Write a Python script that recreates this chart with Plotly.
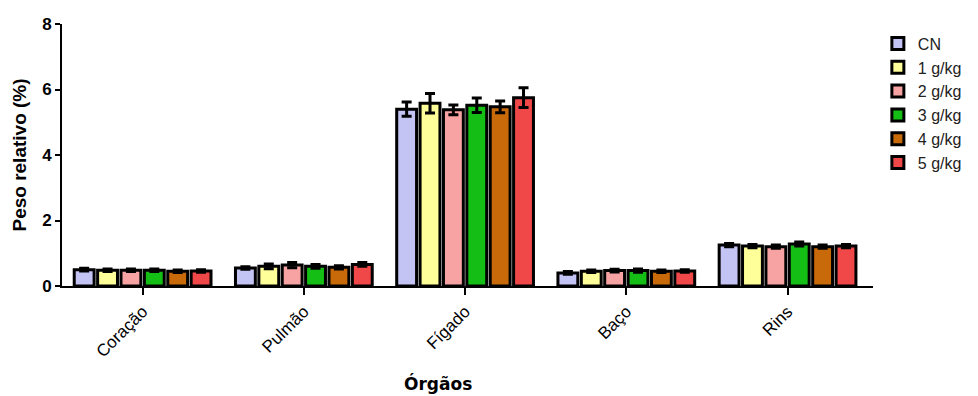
import plotly.graph_objects as go

orgaos = ["Coração", "Pulmão", "Fígado", "Baço", "Rins"]
grupos = ["CN", "1 g/kg", "2 g/kg", "3 g/kg", "4 g/kg", "5 g/kg"]
cores = ["#C4C4F4", "#FFFF99", "#F7A3A3", "#14BE14", "#C86A0A", "#F04848"]

# mean relative organ weight (%) per group, ordered as `orgaos`
media = {
    "CN":     [0.50, 0.55, 5.40, 0.40, 1.25],
    "1 g/kg": [0.48, 0.60, 5.58, 0.45, 1.22],
    "2 g/kg": [0.48, 0.64, 5.38, 0.47, 1.20],
    "3 g/kg": [0.48, 0.60, 5.52, 0.47, 1.28],
    "4 g/kg": [0.45, 0.57, 5.47, 0.45, 1.20],
    "5 g/kg": [0.46, 0.66, 5.75, 0.46, 1.22],
}
# standard error per group
erro = {
    "CN":     [0.04, 0.04, 0.22, 0.04, 0.05],
    "1 g/kg": [0.04, 0.07, 0.30, 0.04, 0.05],
    "2 g/kg": [0.04, 0.08, 0.15, 0.04, 0.05],
    "3 g/kg": [0.04, 0.06, 0.22, 0.05, 0.06],
    "4 g/kg": [0.04, 0.05, 0.18, 0.04, 0.05],
    "5 g/kg": [0.04, 0.06, 0.30, 0.04, 0.05],
}

ARIAL = "Liberation Sans, Arial, sans-serif"

fig = go.Figure()
for g, c in zip(grupos, cores):
    fig.add_trace(go.Bar(
        name=g, x=orgaos, y=media[g],
        marker=dict(color=c, line=dict(color="black", width=3)),
        error_y=dict(type="data", array=erro[g], visible=True,
                     color="black", thickness=3, width=5),
    ))

fig.update_layout(
    width=978, height=396,
    margin=dict(l=62, r=105, t=24, b=110, autoexpand=False),
    paper_bgcolor="white", plot_bgcolor="white",
    barmode="group", bargap=0.13, bargroupgap=0.15,
    font=dict(family=ARIAL, color="black"),
    showlegend=True,
    legend=dict(x=1.006, xanchor="left", y=0.99, yanchor="top",
                font=dict(size=16, color="#222", family=ARIAL), itemwidth=30,
                tracegroupgap=0, bgcolor="rgba(0,0,0,0)"),
    xaxis=dict(
        range=[-0.5, 4.53], showline=True, linecolor="black", linewidth=2,
        ticks="outside", ticklen=7, tickwidth=2, tickcolor="black",
        tickangle=-45, tickfont=dict(size=17, family=ARIAL),
        showgrid=False, zeroline=False, automargin=False,
    ),
    yaxis=dict(
        range=[0, 8], tickvals=[0, 2, 4, 6, 8], showline=True,
        linecolor="black", linewidth=2, ticks="outside", ticklen=5,
        tickwidth=2, tickcolor="black",
        tickfont=dict(size=17, family=ARIAL, weight="bold"),
        title=dict(text="<b>Peso relativo (%)</b>",
                   font=dict(size=19, family=ARIAL), standoff=10),
        showgrid=False, zeroline=False, automargin=False,
    ),
    annotations=[dict(
        text="<b>Órgãos</b>", xref="paper", yref="paper",
        x=0.464, y=-0.374, xanchor="center", yanchor="middle",
        showarrow=False, font=dict(size=17, family="DejaVu Sans, Verdana, sans-serif"),
    )],
)

fig.write_html("out.html")
